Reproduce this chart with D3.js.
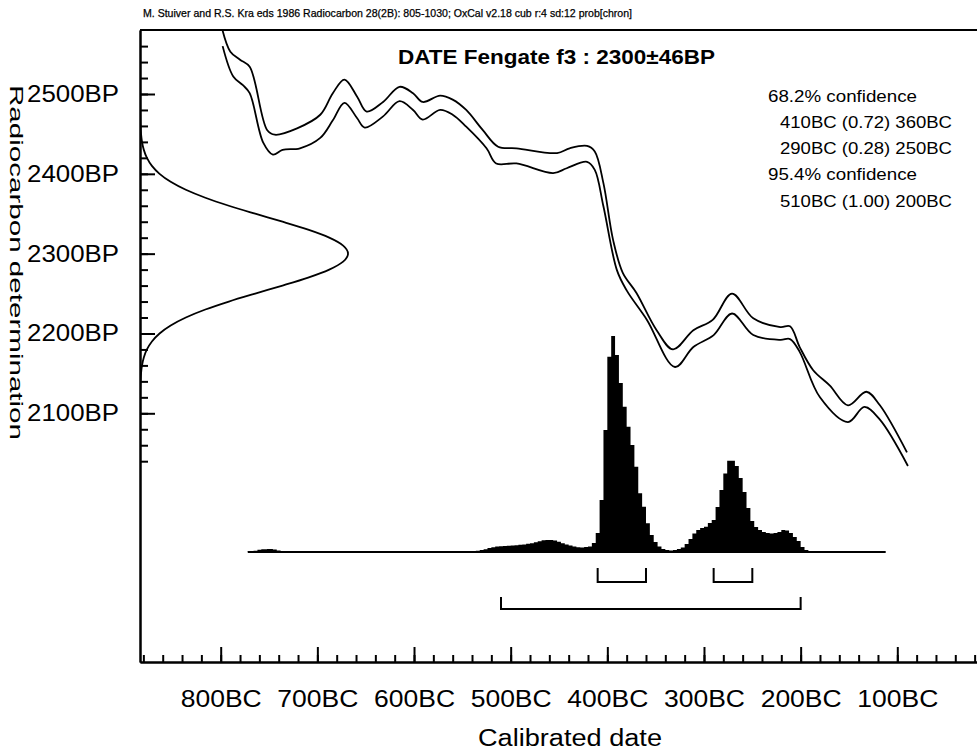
<!DOCTYPE html>
<html><head><meta charset="utf-8">
<script src="https://cdn.jsdelivr.net/npm/d3@7/dist/d3.min.js"></script>
<style>
html,body{margin:0;padding:0;background:#fff;}
svg{display:block;}
text{font-family:"Liberation Sans",Arial,Helvetica,sans-serif;fill:#000;}
</style>
</head><body>
<svg id="chart" width="977" height="753"></svg>
<script>
// ---------------- DATA ----------------
const headerText = "M. Stuiver and R.S. Kra eds  1986 Radiocarbon 28(2B): 805-1030;  OxCal v2.18 cub r:4 sd:12 prob[chron]";
const titleText = "DATE Fengate f3 : 2300\u00b146BP";
const legendLines = ["68.2% confidence", "410BC (0.72) 360BC", "290BC (0.28) 250BC", "95.4% confidence", "510BC (1.00) 200BC"];
const legendIndented = [false, true, true, false, true];

const xMajorBC = [800, 700, 600, 500, 400, 300, 200, 100];
const xMinorBC = [880,860,840,820,800,780,760,740,720,700,680,660,640,620,600,580,560,540,520,500,480,460,440,420,400,380,360,340,320,300,280,260,240,220,200,180,160,140,120,100,80,60,40,20];
const yMajorBP = [2500, 2400, 2300, 2200, 2100];
const yMinorBP = [2560,2540,2520,2500,2480,2460,2440,2420,2400,2380,2360,2340,2320,2300,2280,2260,2240,2220,2200,2180,2160,2140,2120,2100,2080,2060,2040];

// calibration curve, +1 sigma (upper) and -1 sigma (lower): year BC, BP
const upperBC = [799,790,780,770,752,744,721,697,684,672,659,649,632,615,601,591,573,560,546,529,513,494,452,439,421,413,404,394,384,370,349,332,311,291,271,249,221,211,201,187,170,151,132,118,90];
const upperBP = [2584,2553,2543,2534,2455,2449,2457,2474,2501,2518,2497,2478,2490,2509,2501,2490,2498,2493,2480,2455,2434,2432,2426,2432,2435,2428,2388,2317,2276,2251,2204,2180,2204,2217,2250,2219,2208,2209,2183,2154,2135,2110,2127,2110,2051];
const lowerBC = [798,787,777,770,756,746,736,718,697,684,672,659,651,632,615,601,591,573,560,546,525,515,494,456,442,421,413,404,390,380,359,330,311,290,271,249,221,211,201,180,151,134,118,89];
const lowerBP = [2560,2522,2511,2501,2439,2424,2430,2432,2445,2467,2489,2470,2458,2472,2491,2480,2468,2480,2474,2459,2432,2413,2413,2401,2407,2415,2405,2359,2279,2254,2217,2158,2183,2198,2225,2198,2192,2193,2177,2120,2089,2108,2092,2034];

// radiocarbon date 2300±46BP: relative density by BP
const gaussBP = [2120,2130,2140,2150,2160,2170,2180,2190,2200,2210,2220,2230,2240,2250,2260,2270,2280,2290,2300,2310,2320,2330,2340,2350,2360,2370,2380,2390,2400,2410,2420,2430,2440,2450,2460,2470,2480];
const gaussDensity = [0.00047,0.00108,0.00236,0.0049,0.0097,0.0184,0.0333,0.0573,0.0941,0.1475,0.2204,0.3142,0.4271,0.5539,0.6852,0.8084,0.9098,0.9766,1,0.9766,0.9098,0.8084,0.6852,0.5539,0.4271,0.3142,0.2204,0.1475,0.0941,0.0573,0.0333,0.0184,0.0097,0.0049,0.00236,0.00108,0.00047];

// calibrated probability (step start, year BC) and relative value (peak = 100)
const probBC = [772,766,762,758,752,746,742,738,732,700,
  660,620,580,548,540,536,532,528,524,520,
  516,512,508,504,500,496,492,488,484,480,
  476,472,468,464,460,456,452,448,444,440,
  436,432,428,424,420,416,412,408,404,400,
  396,392,388,384,380,376,372,368,364,360,
  356,352,348,344,340,336,332,328,324,320,
  316,312,308,304,300,296,292,288,284,280,
  276,272,268,264,260,256,252,248,244,240,
  236,232,228,224,220,216,212,208,204,200,
  196,192,188];
const probVal = [0.3,0.6,1.0,1.3,1.4,1.1,0.7,0.4,0.25,0.2,
  0.2,0.25,0.25,0.3,0.4,0.6,0.9,1.3,1.8,2.2,
  2.5,2.7,2.8,2.9,3.0,3.1,3.3,3.5,3.8,4.1,
  4.5,5.0,5.4,5.6,5.6,5.3,4.8,4.1,3.5,3.0,
  2.5,2.2,2.1,2.3,2.6,4.2,8.8,24.1,56.5,90.4,
  100,91.2,78.2,67.3,58.0,49.5,39.5,27.2,21.0,13.3,
  7.9,4.6,2.5,1.4,0.9,0.7,0.9,1.4,2.1,3.7,
  6.0,8.6,10.2,11.1,11.7,13.4,14.8,20.8,28.7,36.4,
  42.3,42.3,39.8,34.3,27.8,20.4,14.4,11.6,10.2,9.3,
  8.8,8.6,8.8,9.3,10.2,10.0,8.8,6.9,5.1,2.3,
  0.9,0.3,0];
const probBaselineBC = [772, 112];

// confidence ranges (from, to BC) and level (0 = 68.2%, 1 = 95.4%)
const rangeFromBC = [410, 290, 510];
const rangeToBC = [360, 250, 200];
const rangeLevel = [0, 0, 1];

// ---------------- LAYOUT ----------------
const svg = d3.select("#chart");
const L = 140, R = 977, T = 30, B = 662;

const xBase = d3.scaleLinear().domain([800, 100]).range([220.7, 897.3]);
const x = xBase.copy().domain([xBase.invert(L), xBase.invert(R)]).range([L, R]);
const yBase = d3.scaleLinear().domain([2500, 2100]).range([94, 413.3]);
const y = yBase.copy().domain([yBase.invert(T), yBase.invert(B)]).range([T, B]);
const gx = d3.scaleLinear().domain([0, 1]).range([L, 348]);
const py = d3.scaleLinear().domain([0, 100]).range([552, 336]);

svg.append("defs").append("clipPath").attr("id", "plotclip")
  .append("rect").attr("x", L).attr("y", T).attr("width", R - L).attr("height", B - T);

// header
svg.append("text").attr("x", 143).attr("y", 16.5).attr("font-size", 10.5)
  .attr("stroke", "#000").attr("stroke-width", 0.25)
  .attr("textLength", 489).attr("lengthAdjust", "spacingAndGlyphs").text(headerText);

// top border
svg.append("line").attr("x1", L).attr("x2", R).attr("y1", T).attr("y2", T)
  .attr("stroke", "#000").attr("stroke-width", 2);

// histogram
const probData = probBC.map((b, i) => ({bc: b, v: probVal[i]}));
svg.append("path").datum(probData)
  .attr("d", d3.area().curve(d3.curveStepAfter).x(d => x(d.bc)).y0(py(0)).y1(d => py(d.v)))
  .attr("fill", "#000");
svg.append("line")
  .attr("x1", x(probBaselineBC[0])).attr("x2", x(probBaselineBC[1]))
  .attr("y1", py(0)).attr("y2", py(0)).attr("stroke", "#000").attr("stroke-width", 2);

// calibration curve
const curveLine = d3.line().curve(d3.curveCatmullRom.alpha(0.5)).x(d => x(d[0])).y(d => y(d[1]));
const cg = svg.append("g").attr("clip-path", "url(#plotclip)");
cg.append("path").datum(upperBC.map((b, i) => [b, upperBP[i]]))
  .attr("d", curveLine).attr("fill", "none").attr("stroke", "#000").attr("stroke-width", 1.8);
cg.append("path").datum(lowerBC.map((b, i) => [b, lowerBP[i]]))
  .attr("d", curveLine).attr("fill", "none").attr("stroke", "#000").attr("stroke-width", 1.8);

// radiocarbon date gaussian
cg.append("path").datum(gaussBP.map((b, i) => [gaussDensity[i], b]))
  .attr("d", d3.line().curve(d3.curveMonotoneY).x(d => gx(d[0])).y(d => y(d[1])))
  .attr("fill", "none").attr("stroke", "#000").attr("stroke-width", 1.8);

// confidence brackets
const levelTop = [568, 597], levelBot = [582, 609];
rangeFromBC.forEach((f, i) => {
  const t = rangeToBC[i], lv = rangeLevel[i];
  svg.append("path")
    .attr("d", `M${x(f)},${levelTop[lv]}V${levelBot[lv]}H${x(t)}V${levelTop[lv]}`)
    .attr("fill", "none").attr("stroke", "#000").attr("stroke-width", 2);
});

// x axis
const xMinorG = svg.append("g").attr("transform", `translate(0,${B})`)
  .call(d3.axisBottom(x).tickValues(xMinorBC).tickSize(-7).tickSizeOuter(0).tickFormat(""));
const xMajorG = svg.append("g").attr("transform", `translate(0,${B})`)
  .call(d3.axisBottom(x).tickValues(xMajorBC).tickSize(-15).tickSizeOuter(0).tickPadding(29).tickFormat(d => d + "BC"));
[xMinorG, xMajorG].forEach(g => {
  g.selectAll("path,line").attr("stroke", "#000").attr("stroke-width", 2);
});
xMajorG.selectAll("text").attr("font-size", 23).attr("font-family", "Liberation Sans, Arial, sans-serif")
  .attr("fill", "#000").attr("textLength", 81).attr("lengthAdjust", "spacingAndGlyphs");

// y axis
const yMinorG = svg.append("g").attr("transform", `translate(${L},0)`)
  .call(d3.axisLeft(y).tickValues(yMinorBP).tickSize(-8).tickSizeOuter(0).tickFormat(""));
const yMajorG = svg.append("g").attr("transform", `translate(${L},0)`)
  .call(d3.axisLeft(y).tickValues(yMajorBP).tickSize(-15).tickSizeOuter(0).tickPadding(21).tickFormat(d => d + "BP"));
[yMinorG, yMajorG].forEach(g => {
  g.selectAll("path,line").attr("stroke", "#000").attr("stroke-width", 2);
});
yMajorG.selectAll("text").attr("font-size", 23).attr("font-family", "Liberation Sans, Arial, sans-serif")
  .attr("fill", "#000").attr("textLength", 92).attr("lengthAdjust", "spacingAndGlyphs");

// axis titles
svg.append("text").attr("x", 570).attr("y", 746).attr("text-anchor", "middle").attr("font-size", 23)
  .attr("textLength", 184).attr("lengthAdjust", "spacingAndGlyphs").text("Calibrated date");
svg.append("text").attr("transform", "translate(10,262.5) rotate(90)").attr("text-anchor", "middle")
  .attr("font-size", 19).attr("textLength", 355).attr("lengthAdjust", "spacingAndGlyphs")
  .text("Radiocarbon determination");

// title
svg.append("text").attr("x", 556.5).attr("y", 64).attr("text-anchor", "middle").attr("font-size", 20)
  .attr("font-weight", "bold").attr("textLength", 317).attr("lengthAdjust", "spacingAndGlyphs").text(titleText);

// legend
const legendBase = [102, 128.3, 153.5, 180, 206.5];
legendLines.forEach((s, i) => {
  svg.append("text").attr("x", legendIndented[i] ? 780 : 768).attr("y", legendBase[i])
    .attr("font-size", 16).attr("textLength", legendIndented[i] ? 172 : 149)
    .attr("lengthAdjust", "spacingAndGlyphs").text(s);
});
</script>
</body></html>
